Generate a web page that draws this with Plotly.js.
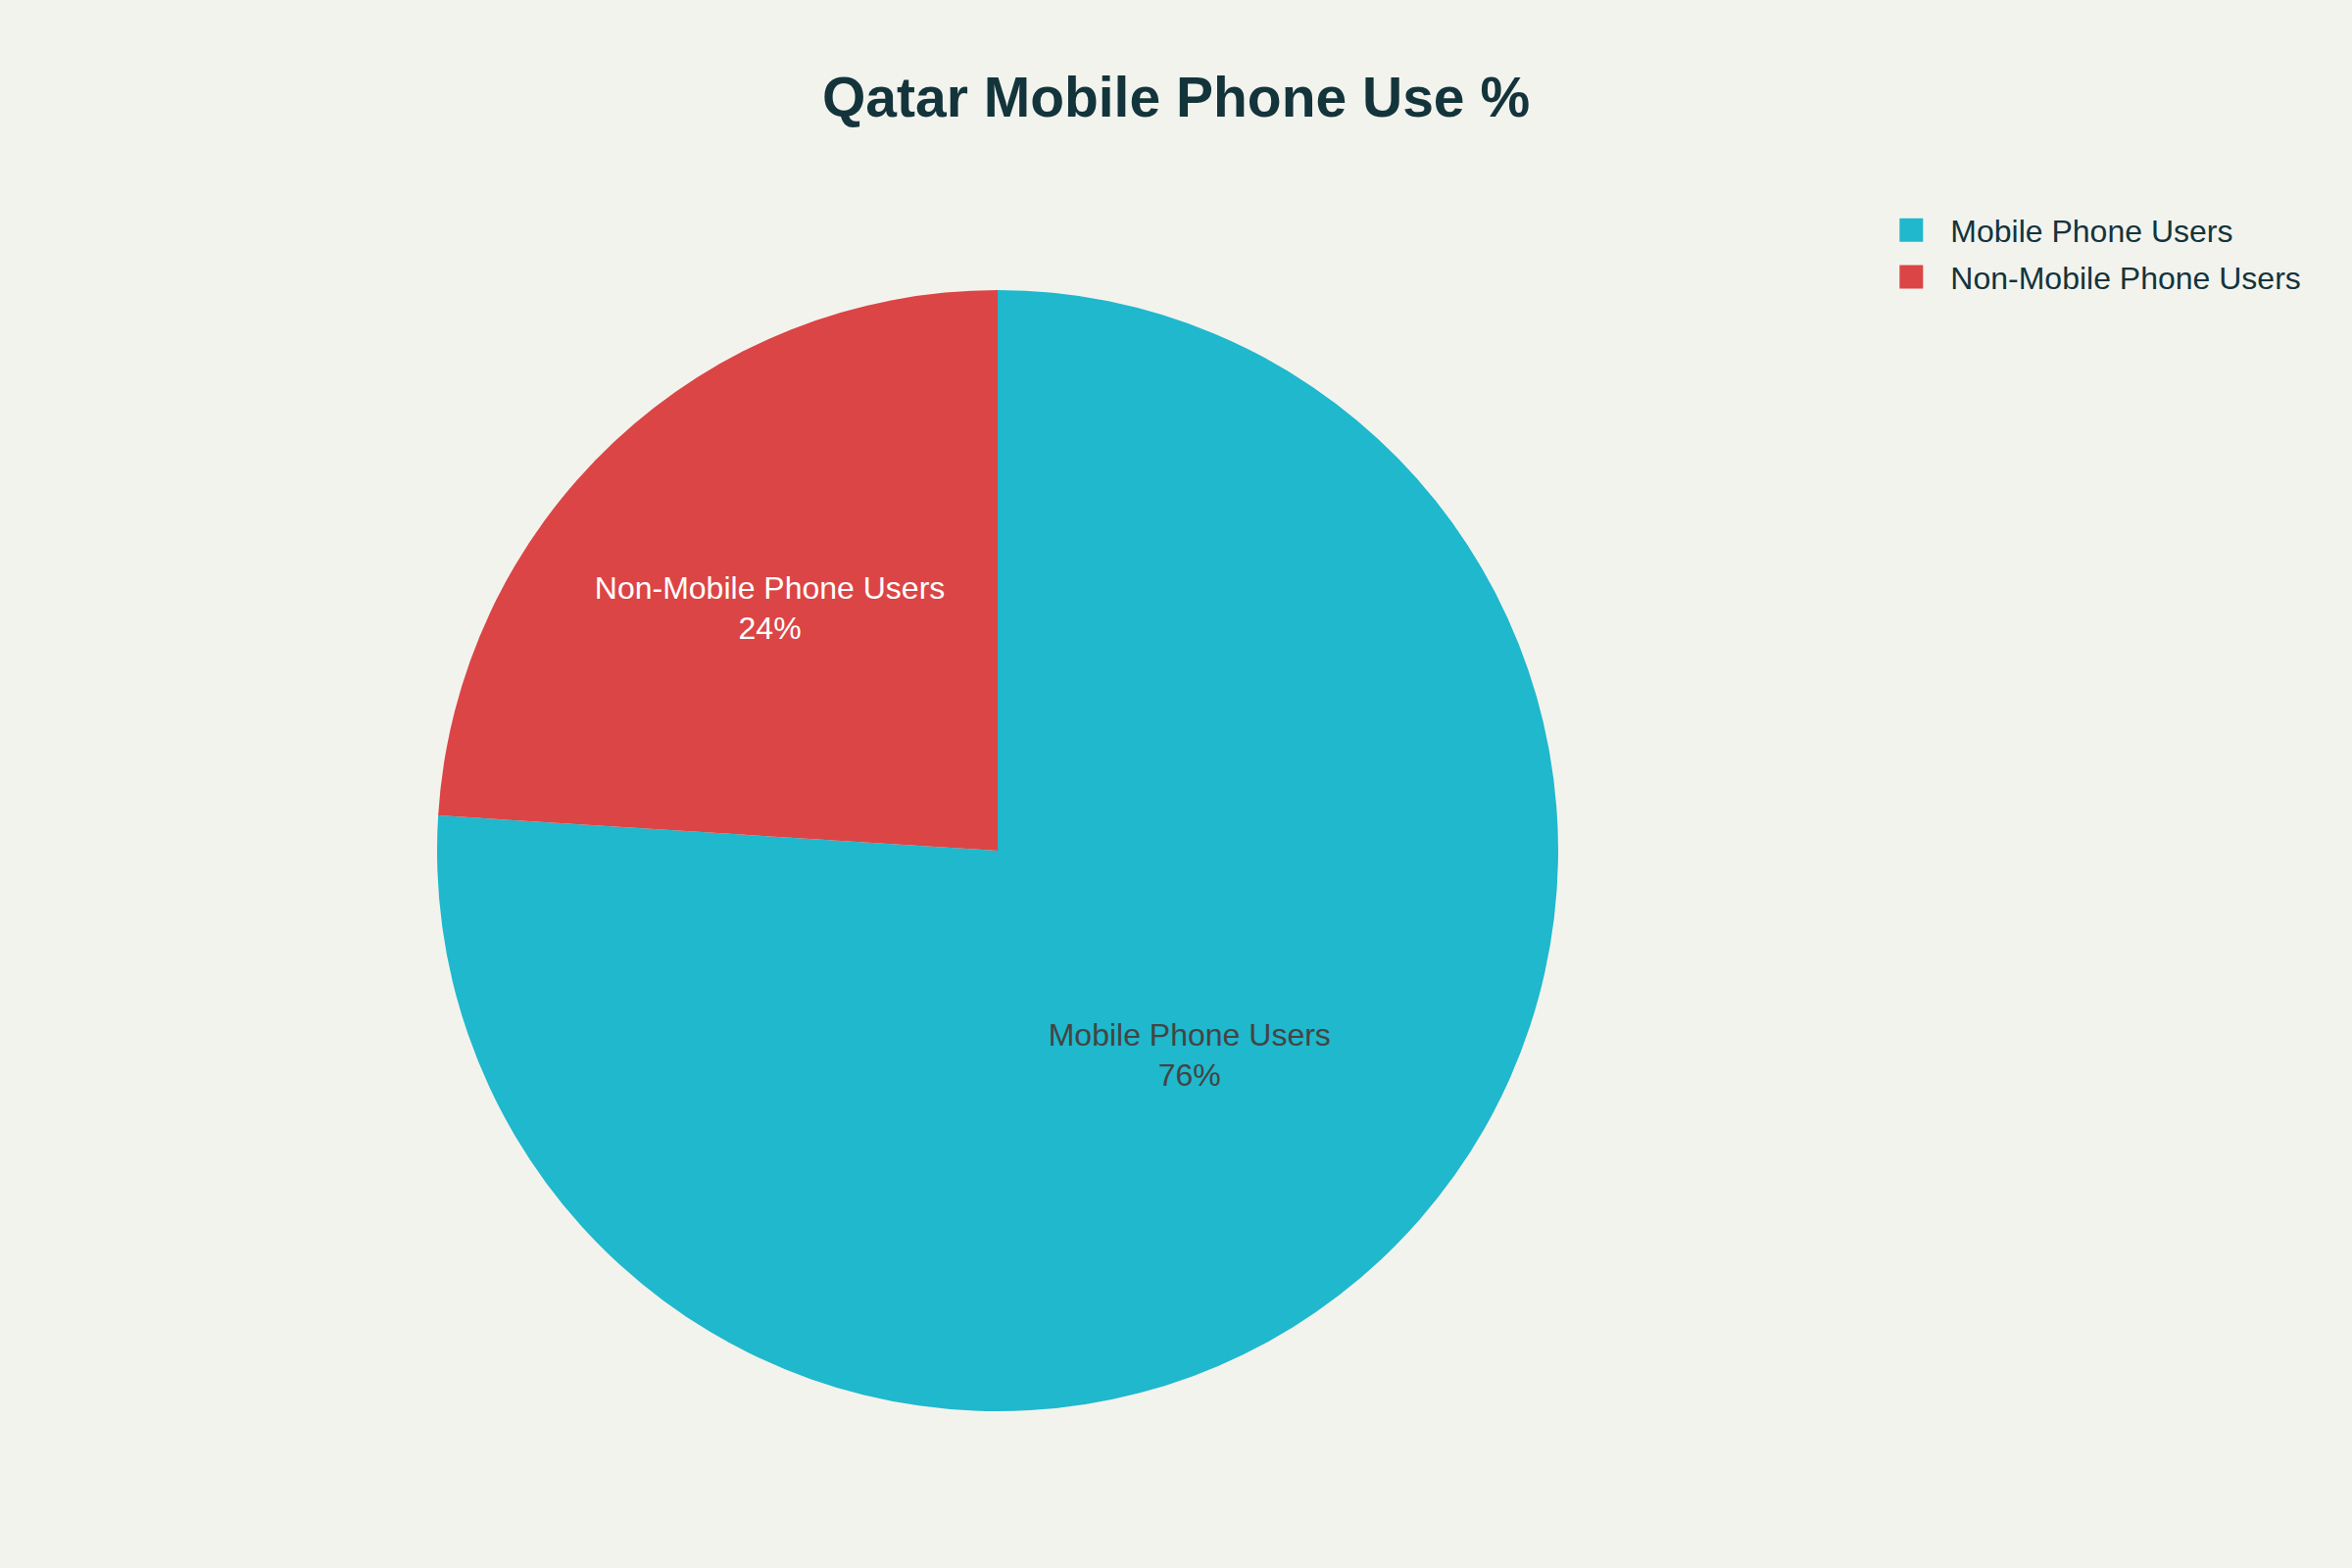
<!DOCTYPE html>
<html>
<head>
<meta charset="utf-8">
<script src="https://cdn.plot.ly/plotly-3.0.1.min.js"></script>
<style>
  html, body { margin: 0; padding: 0; background: #F3F3EE; overflow: hidden; }
  #wrap { width: 2400px; height: 1600px; overflow: hidden; }
  #chart { width: 1200px; height: 800px; transform: scale(2); transform-origin: 0 0; }
</style>
</head>
<body>
<div id="wrap"><div id="chart"></div></div>
<script>
const categories = ["Mobile Phone Users", "Non-Mobile Phone Users"];
const shares = [76, 24];
const sliceColors = ["#1FB8CD", "#DB4545"];
const chartTitle = "Qatar Mobile Phone Use %";

const fontFamily = "'Liberation Sans', Arial, sans-serif";

const data = [{
  type: "pie",
  labels: categories,
  values: shares,
  marker: { colors: sliceColors, line: { width: 0 } },
  textinfo: "label+percent",
  textposition: "inside",
  insidetextorientation: "horizontal",
  sort: false,
  direction: "clockwise",
  rotation: 0,
  textfont: { family: fontFamily, size: 16 },
  hoverinfo: "label+percent"
}];

const layout = {
  width: 1200,
  height: 800,
  paper_bgcolor: "#F3F3EE",
  plot_bgcolor: "#F3F3EE",
  font: { family: fontFamily, size: 16, color: "#13343B" },
  title: {
    text: "<b>" + chartTitle + "</b>",
    font: { family: fontFamily, size: 28.5, color: "#13343B" },
    xref: "container", x: 0.5, xanchor: "center",
    yref: "container", y: 1 - 49.5 / 800, yanchor: "middle"
  },
  margin: { l: 80, r: 262, t: 148, b: 80, pad: 0 },
  showlegend: true,
  legend: {
    x: 1.02, xanchor: "left",
    y: 1.083, yanchor: "top",
    font: { family: fontFamily, size: 16, color: "#13343B" },
    bgcolor: "rgba(0,0,0,0)"
  }
};

Plotly.newPlot("chart", data, layout, { displayModeBar: false, responsive: false });
</script>
</body>
</html>
